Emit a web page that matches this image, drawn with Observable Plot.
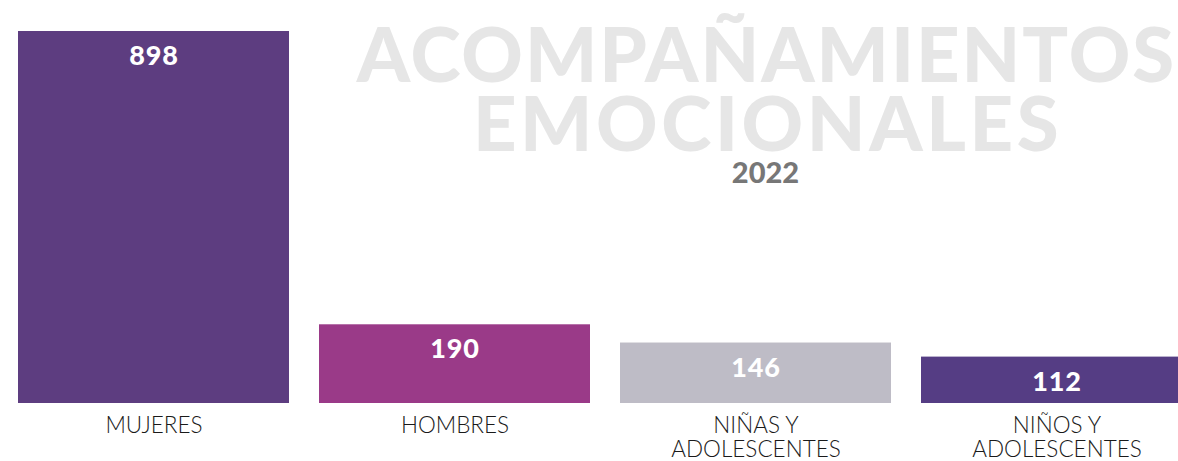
<!DOCTYPE html>
<html>
<head>
<meta charset="utf-8">
<script src="https://cdn.jsdelivr.net/npm/d3@7"></script>
<script src="https://cdn.jsdelivr.net/npm/@observablehq/plot@0.6"></script>
<style>
  html, body { margin: 0; padding: 0; background: #fff; }
  #chart svg { display: block; }
</style>
</head>
<body>
<div id="chart"></div>
<script>
const categories = ["MUJERES", "HOMBRES", "NIÑAS Y\nADOLESCENTES", "NIÑOS Y\nADOLESCENTES"];
const values = [898, 190, 146, 112];
const colors = ["#5d3d80", "#9a3a88", "#bebcc6", "#553d84"];
const titleLines = ["ACOMPAÑAMIENTOS", "EMOCIONALES"];
const yearLabel = "2022";

const data = categories.map((c, i) => ({category: c, value: values[i], color: colors[i]}));

const chart = Plot.plot({
  width: 1178,
  height: 461,
  marginTop: 0,
  marginLeft: 0,
  marginRight: 0,
  marginBottom: 58,
  style: {background: "#fff", overflow: "hidden"},
  x: {domain: categories, range: [18, 1192], paddingInner: 30 / 301, paddingOuter: 0, label: null},
  y: {domain: [0, 898], range: [403, 31], axis: null},
  marks: [
    Plot.text([titleLines[0]], {frameAnchor: "top", dx: 177, dy: 28, lineAnchor: "top", text: d => d,
      fontSize: 76, fontWeight: 900, fill: "#e6e6e6", fontFamily: "Lato, sans-serif"}),
    Plot.text([titleLines[1]], {frameAnchor: "top", dx: 178, dy: 97, lineAnchor: "top", text: d => d,
      fontSize: 76, fontWeight: 900, fill: "#e6e6e6", fontFamily: "Lato, sans-serif"}),
    Plot.text([yearLabel], {frameAnchor: "top", dx: 176, dy: 162, lineAnchor: "top", text: d => d,
      fontSize: 29, fontWeight: 900, fill: "#777777", fontFamily: "Lato, sans-serif"}),
    Plot.barY(data, {x: "category", y: "value", fill: "color"}),
    Plot.text(data, {x: "category", y: "value", text: d => String(d.value), lineAnchor: "middle", dy: 25,
      fill: "#ffffff", fontSize: 27, fontWeight: 900, fontFamily: "Lato, sans-serif"}),
    Plot.axisX({tickSize: 0, tickPadding: 12, fontSize: 22.5, lineHeight: 1.08, label: null,
      fontFamily: "Lato, sans-serif", fontWeight: 300, fill: "#1a1a1a"})
  ]
});
document.getElementById("chart").appendChild(chart);
const svg = d3.select(chart);
svg.selectAll("text").filter(function() { return this.textContent === titleLines[0]; })
  .style("letter-spacing", "2px");
svg.selectAll("text").filter(function() { return this.textContent === titleLines[1]; })
  .style("letter-spacing", "3.6px");
svg.selectAll("text").filter(function() { return values.map(String).includes(this.textContent); })
  .style("letter-spacing", "0.8px");
</script>
</body>
</html>
